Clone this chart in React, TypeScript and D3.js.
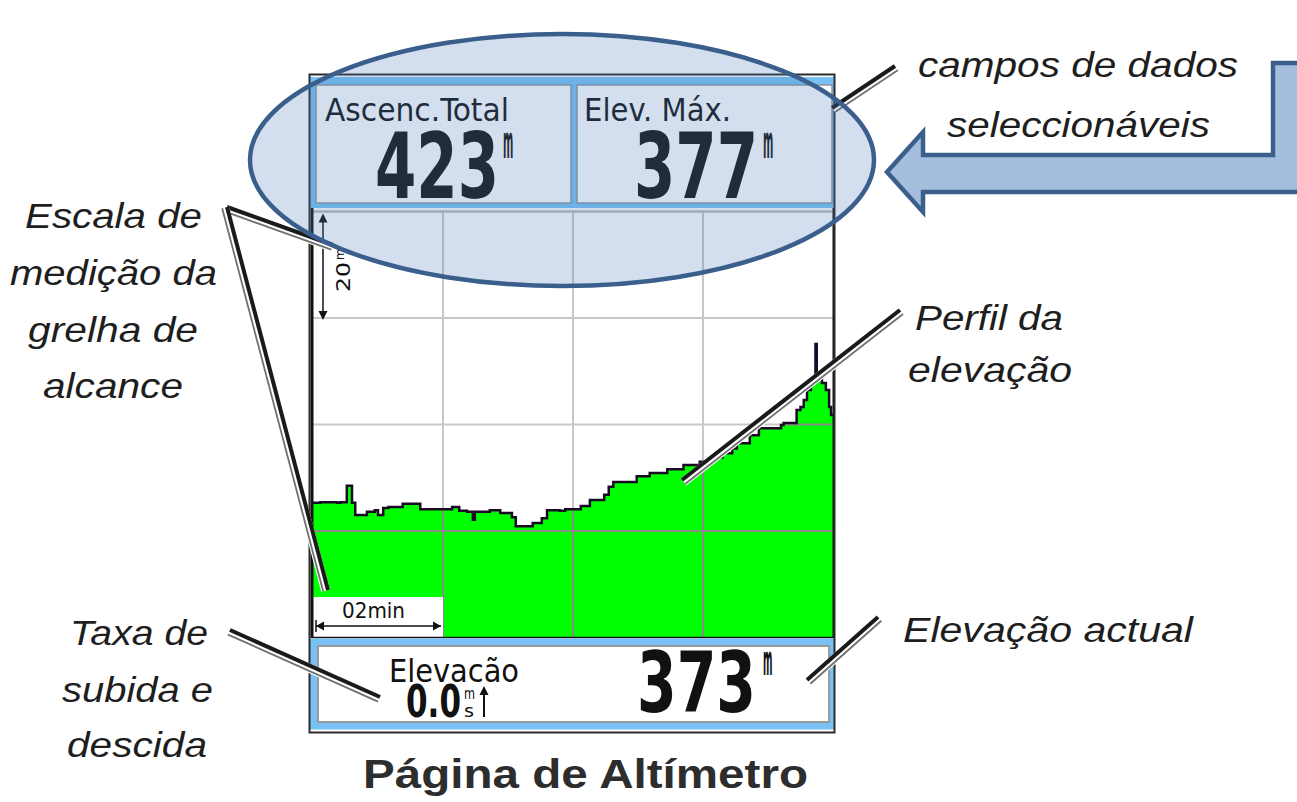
import React from 'react';
import * as d3 from 'd3';

// elevation profile (minutes, metres)
const timeMin = [
  0, 0.11, 0.37, 0.42, 0.52, 0.6, 0.65, 0.83, 0.95, 1.0, 1.08, 1.16, 1.38, 1.65,
  2.14, 2.25, 2.37, 2.46, 2.49, 2.72, 2.88, 3.06, 3.12, 3.38, 3.52, 3.6, 3.8, 3.88,
  4.12, 4.26, 4.48, 4.55, 4.62, 4.98, 5.18, 5.45, 5.7, 5.95, 6.15, 6.3, 6.45, 6.52,
  6.72, 6.86, 7.2, 7.24, 7.44, 7.5, 7.55, 7.6, 7.66, 7.73, 7.75, 7.83, 7.89, 7.94,
  7.97, 8.0,
];
const elevation = [
  354.3, 354.4, 354.3, 354.4, 357.5, 354.3, 352.0, 352.6, 352.9, 352.0, 353.3, 353.5, 354.1, 353.1,
  353.5, 352.8, 352.6, 351.1, 352.6, 352.9, 352.4, 351.6, 349.9, 350.5, 351.4, 352.9, 352.8, 353.1,
  353.7, 354.8, 355.8, 357.3, 358.2, 359.3, 359.9, 360.6, 361.4, 362.0, 362.8, 363.6, 364.5, 365.5,
  367.0, 368.3, 368.9, 369.3, 371.7, 372.3, 373.6, 375.5, 376.8, 384.1, 377.9, 376.8, 375.5, 372.3,
  370.8, 370.8,
];
const gridTimes = [0, 2, 4, 6, 8];
const gridElevations = [329, 349, 369, 389, 409];

const fieldLabels = ['Ascenc.Total', 'Elev. Máx.'];
const fieldValues = ['423', '377'];
const currentElevation = '373';
const climbRate = '0.0';
const bottomLabel = 'Elevacão';
const yScaleLabel = '20';
const xScaleLabel = '02min';
const title = 'Página de Altímetro';

const W = 1297;
const H = 802;
const plot = { left: 313, right: 833, top: 211.5, bottom: 637.5 };

const x = d3.scaleLinear().domain([0, 8]).range([plot.left, plot.right]);
const y = d3.scaleLinear().domain([329, 409]).range([plot.bottom, plot.top]);

const points: [number, number][] = timeMin.map((t, i) => [t, elevation[i]]);
const areaGen = d3
  .area<[number, number]>()
  .x(d => x(d[0]))
  .y0(plot.bottom)
  .y1(d => y(d[1]))
  .curve(d3.curveStepAfter);
const lineGen = d3
  .line<[number, number]>()
  .x(d => x(d[0]))
  .y(d => y(d[1]))
  .curve(d3.curveStepAfter);

const LCD = "'DejaVu Sans Condensed', 'DejaVu Sans', sans-serif";
const NOTE = "'Liberation Sans', Arial, sans-serif";
const BLUE = '#77c1f5';

// double-stroke pointer lines
const Callout = ({ x1, y1, x2, y2 }: { x1: number; y1: number; x2: number; y2: number }) => {
  const dx = x2 - x1;
  const dy = y2 - y1;
  const len = Math.hypot(dx, dy);
  let nx = -dy / len;
  let ny = dx / len;
  if (ny < 0) {
    nx = -nx;
    ny = -ny;
  }
  const seg = (o: number, stroke: string, w: number) => (
    <line
      x1={x1 + nx * o}
      y1={y1 + ny * o}
      x2={x2 + nx * o}
      y2={y2 + ny * o}
      stroke={stroke}
      strokeWidth={w}
    />
  );
  return (
    <g>
      {seg(2.5, '#ffffff', 9)}
      {seg(0, '#1a1a1a', 4)}
      {seg(5, '#707070', 1.8)}
    </g>
  );
};

const Note = ({ x: tx, y: ty, w, children }: { x: number; y: number; w: number; children: string }) => (
  <text
    x={tx}
    y={ty}
    fontFamily={NOTE}
    fontStyle="italic"
    fontSize={35}
    fill="#1e1e1e"
    textLength={w}
    lengthAdjust="spacingAndGlyphs"
  >
    {children}
  </text>
);

// tall narrow unit mark drawn next to the big readouts
const Unit = ({ x: ux, y: uy, size }: { x: number; y: number; size: number }) => (
  <text
    transform={`translate(${ux},${uy}) scale(0.24,1)`}
    fontFamily={LCD}
    fontWeight="bold"
    fontSize={size}
    fill="#111"
  >
    m
  </text>
);

export default function App() {
  const areaPath = areaGen(points) || '';
  const innerT = gridTimes.slice(1, -1);
  const innerE = gridElevations.slice(1);

  const grid = (stroke: string) => (
    <g stroke={stroke} strokeWidth={2}>
      {innerT.map(t => (
        <line key={'v' + t} x1={x(t)} x2={x(t)} y1={plot.top} y2={plot.bottom} />
      ))}
      {innerE.map(e => (
        <line key={'h' + e} x1={plot.left} x2={plot.right} y1={y(e)} y2={y(e)} />
      ))}
    </g>
  );

  const sy0 = y(409) + 4;
  const sy1 = y(389);
  const sx = 323;
  const hx0 = x(0) + 3;
  const hx1 = x(2) - 2;
  const hy = 626;

  return (
    <svg
      width={W}
      height={H}
      style={{ position: 'absolute', left: 0, top: 0, background: '#fff' }}
    >
      <defs>
        <clipPath id="greenClip">
          <path d={areaPath} />
        </clipPath>
      </defs>

      {/* top data fields */}
      <rect x={310} y={77} width={524} height={131} fill={BLUE} />
      {fieldLabels.map((lab, i) => {
        const cx = i === 0 ? 316 : 577;
        return (
          <g key={lab}>
            <rect x={cx} y={85} width={255} height={118} fill="#fff" stroke="#8c96a0" strokeWidth={1.5} />
            <text x={i === 0 ? 325 : 584} y={121} fontFamily={LCD} fontSize={32} fill="#111"
              textLength={i === 0 ? 184 : 147} lengthAdjust="spacingAndGlyphs">{lab}</text>
            <text x={i === 0 ? 375 : 634} y={198} fontFamily={LCD} fontWeight="bold" fontSize={90} fill="#111"
              textLength={124} lengthAdjust="spacingAndGlyphs">{fieldValues[i]}</text>
            <Unit x={i === 0 ? 503 : 763} y={158} size={46} />
          </g>
        );
      })}

      {/* elevation chart */}
      {grid('#c8c8c8')}
      <line x1={plot.left} x2={plot.right} y1={plot.top} y2={plot.top} stroke="#b8b8b8" strokeWidth={2} />
      <path d={areaPath} fill="#00ff00" />
      <g clipPath="url(#greenClip)">{grid('#8a8a8a')}</g>
      <path d={lineGen(points) || ''} fill="none" stroke="#1a0a26" strokeWidth={2.5} />

      {/* vertical range scale */}
      <line x1={sx} x2={sx} y1={sy0} y2={sy1} stroke="#111" strokeWidth={1.5} />
      <path d={`M${sx},${sy0 - 2}L${sx - 4.5},${sy0 + 7}L${sx + 4.5},${sy0 + 7}Z`} fill="#111" />
      <path d={`M${sx},${sy1 + 2}L${sx - 4.5},${sy1 - 7}L${sx + 4.5},${sy1 - 7}Z`} fill="#111" />
      <g transform="translate(350,292) rotate(-90)">
        <text x={0} y={0} fontFamily={LCD} fontSize={20} fill="#111" textLength={30} lengthAdjust="spacingAndGlyphs">
          {yScaleLabel}
        </text>
        <text x={32} y={-6} fontFamily={LCD} fontSize={13} fill="#111">m</text>
      </g>

      {/* horizontal time scale */}
      <rect x={x(0)} y={597} width={x(2) - x(0)} height={plot.bottom - 597} fill="#fff" />
      <text x={342} y={618} fontFamily={LCD} fontSize={21} fill="#111" textLength={63} lengthAdjust="spacingAndGlyphs">
        {xScaleLabel}
      </text>
      <line x1={hx0} x2={hx1} y1={hy} y2={hy} stroke="#111" strokeWidth={1.5} />
      <line x1={hx0} x2={hx0} y1={hy - 6} y2={hy + 6} stroke="#111" strokeWidth={1.5} />
      <path d={`M${hx0},${hy}L${hx0 + 8},${hy - 4.5}L${hx0 + 8},${hy + 4.5}Z`} fill="#111" />
      <path d={`M${hx1},${hy}L${hx1 - 8},${hy - 4.5}L${hx1 - 8},${hy + 4.5}Z`} fill="#111" />

      {/* chart borders */}
      <line x1={312} x2={312} y1={208} y2={638} stroke="#111" strokeWidth={3} />
      <line x1={833.5} x2={833.5} y1={208} y2={638} stroke="#111" strokeWidth={2} />
      <line x1={312} x2={834} y1={637.5} y2={637.5} stroke="#111" strokeWidth={1.5} />

      {/* bottom field */}
      <rect x={310} y={638.5} width={524} height={91} fill={BLUE} />
      <rect x={318} y={646} width={511} height={76} fill="#fff" stroke="#9a9a9a" strokeWidth={2} />
      <text x={389} y={682} fontFamily={LCD} fontSize={32} fill="#111" textLength={130} lengthAdjust="spacingAndGlyphs">
        {bottomLabel}
      </text>
      <text x={406} y={717} fontFamily={LCD} fontWeight="bold" fontSize={44} fill="#111" textLength={55} lengthAdjust="spacingAndGlyphs">
        {climbRate}
      </text>
      <text x={464} y={699} fontFamily={LCD} fontSize={15} fill="#111" textLength={11} lengthAdjust="spacingAndGlyphs">m</text>
      <text x={464} y={717} fontFamily={LCD} fontSize={17} fill="#111" textLength={10} lengthAdjust="spacingAndGlyphs">s</text>
      <line x1={484} x2={484} y1={692} y2={717} stroke="#111" strokeWidth={2} />
      <path d="M484,686L479.5,695L488.5,695Z" fill="#111" />
      <text x={637} y={712} fontFamily={LCD} fontWeight="bold" fontSize={84} fill="#111" textLength={119} lengthAdjust="spacingAndGlyphs">
        {currentElevation}
      </text>
      <Unit x={763} y={675} size={42} />

      {/* device frame */}
      <rect x={309.5} y={74.5} width={525} height={658} fill="none" stroke="#2b2b2b" strokeWidth={2} />

      {/* pointer lines */}
      <Callout x1={895} y1={66} x2={832} y2={108} />
      <Callout x1={227} y1={207} x2={333} y2={245} />
      <Callout x1={227} y1={207} x2={328} y2={590} />
      <Callout x1={900} y1={310} x2={682} y2={480} />
      <Callout x1={230} y1={630} x2={380} y2={697} />
      <Callout x1={878} y1={617} x2={807} y2={680} />

      {/* highlight ellipse */}
      <ellipse cx={562} cy={160} rx={312} ry={126} fill="#4f81bd" fillOpacity={0.25} stroke="#3a5f8c" strokeWidth={4.5} />

      {/* bent arrow */}
      <path
        d="M1302,63L1273,63L1273,155L923,155L923,132L887,172L923,212L923,192L1302,192Z"
        fill="#a6bedd"
        stroke="#3a5f8c"
        strokeWidth={4.5}
        strokeLinejoin="miter"
      />

      {/* annotations */}
      <Note x={918} y={77} w={320}>campos de dados</Note>
      <Note x={947} y={137} w={263}>seleccionáveis</Note>
      <Note x={25} y={228} w={177}>Escala de</Note>
      <Note x={10} y={285} w={207}>medição da</Note>
      <Note x={28} y={342} w={170}>grelha de</Note>
      <Note x={43} y={398} w={140}>alcance</Note>
      <Note x={915} y={330} w={148}>Perfil da</Note>
      <Note x={908} y={382} w={164}>elevação</Note>
      <Note x={903} y={642} w={290}>Elevação actual</Note>
      <Note x={70} y={645} w={138}>Taxa de</Note>
      <Note x={62} y={702} w={151}>subida e</Note>
      <Note x={67} y={757} w={140}>descida</Note>

      <text x={363} y={788} fontFamily={NOTE} fontWeight="bold" fontSize={40} fill="#2d2d2d"
        textLength={445} lengthAdjust="spacingAndGlyphs">
        {title}
      </text>
    </svg>
  );
}
